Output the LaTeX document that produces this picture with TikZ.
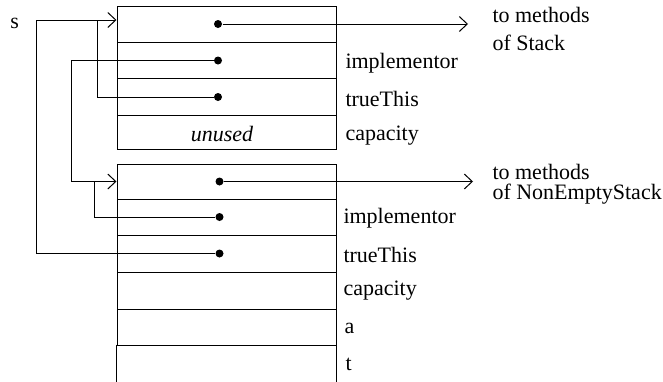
\documentclass[tikz,border=0pt]{standalone}
\usepackage{fontspec}
\setmainfont{Liberation Serif}
\usetikzlibrary{arrows.meta}
\begin{document}
\begin{tikzpicture}[x=0.5pt,y=-0.5pt,
  cell/.style={draw,rectangle,inner sep=0pt,minimum width=109.5pt},
  dot/.style={circle,fill,inner sep=0pt,minimum size=4pt},
  lbl/.style={anchor=base west,inner sep=0pt,font=\fontsize{11}{13}\selectfont},
  arr/.style={-{Straight Barb[length=4pt,width=7.5pt]}},
  every path/.style={line width=0.5pt}]
\useasboundingbox (0,0) rectangle (663,381);
% top object
\node[cell,minimum height=18pt]    (T1) at (226.5,24) {};
\node[cell,minimum height=18.25pt] (T2) at (226.5,60.25) {};
\node[cell,minimum height=18.25pt] (T3) at (226.5,96.75) {};
\node[cell,minimum height=17pt]    (T4) at (226.5,132) {};
% bottom object
\node[cell,minimum height=17.5pt]  (B1) at (226.5,181.5) {};
\node[cell,minimum height=18pt]    (B2) at (226.5,217) {};
\node[cell,minimum height=18.5pt]  (B3) at (226.5,253.5) {};
\node[cell,minimum height=18.5pt]  (B4) at (226.5,290.5) {};
\node[cell,minimum height=18pt]    (B5) at (226.5,327) {};
\node[rectangle,inner sep=0pt,minimum width=109.5pt,minimum height=18pt] (B6) at (226.5,363) {};
\draw (B6.north west) -- (B6.south west) (B6.north east) -- (B6.south east);
% dots
\node[dot] (d1) at (218,24) {};
\node[dot] (d2) at (218,60.5) {};
\node[dot] (d3) at (218,97) {};
\node[dot] (d4) at (219.5,181.5) {};
\node[dot] (d5) at (219.5,217) {};
\node[dot] (d6) at (219.5,253.5) {};
% texts
\node[lbl] (s) at (10,28) {s};
\node[lbl,anchor=base] (unused) at (222,141) {\itshape unused};
\node[lbl] (l1) at (345,68) {implementor};
\node[lbl] (l2) at (345,106) {trueThis};
\node[lbl] (l3) at (345,140.5) {capacity};
\node[lbl] (l4) at (343,223) {implementor};
\node[lbl] (l5) at (343,262) {trueThis};
\node[lbl] (l6) at (343,295.5) {capacity};
\node[lbl] (l7) at (344,333) {a};
\node[lbl] (l8) at (345,370) {t};
\node[lbl] (m1) at (492,22.5) {to methods};
\node[lbl] (m2) at (492,50.5) {of Stack};
\node[lbl] (m3) at (492,179) {to methods};
\node[lbl] (m4) at (492,199) {of NonEmptyStack};
% coordinates
\coordinate (sj) at (36,20);
\coordinate (j1) at (97,20);
\coordinate (c2) at (71,181.5);
\coordinate (j2) at (94,181.5);
\coordinate (e1) at (468,24);
\coordinate (e2) at (473,181.5);
% connectors
\draw[arr] (sj) -- (T1.west |- sj);
\draw (d6) -| (sj);
\draw (d3) -| (j1);
\draw[arr] (d2) -| (c2) -- (B1.west);
\draw (d5) -| (j2);
\draw[arr] (d1) -- (e1);
\draw[arr] (d4) -- (e2);
\end{tikzpicture}
\end{document}
